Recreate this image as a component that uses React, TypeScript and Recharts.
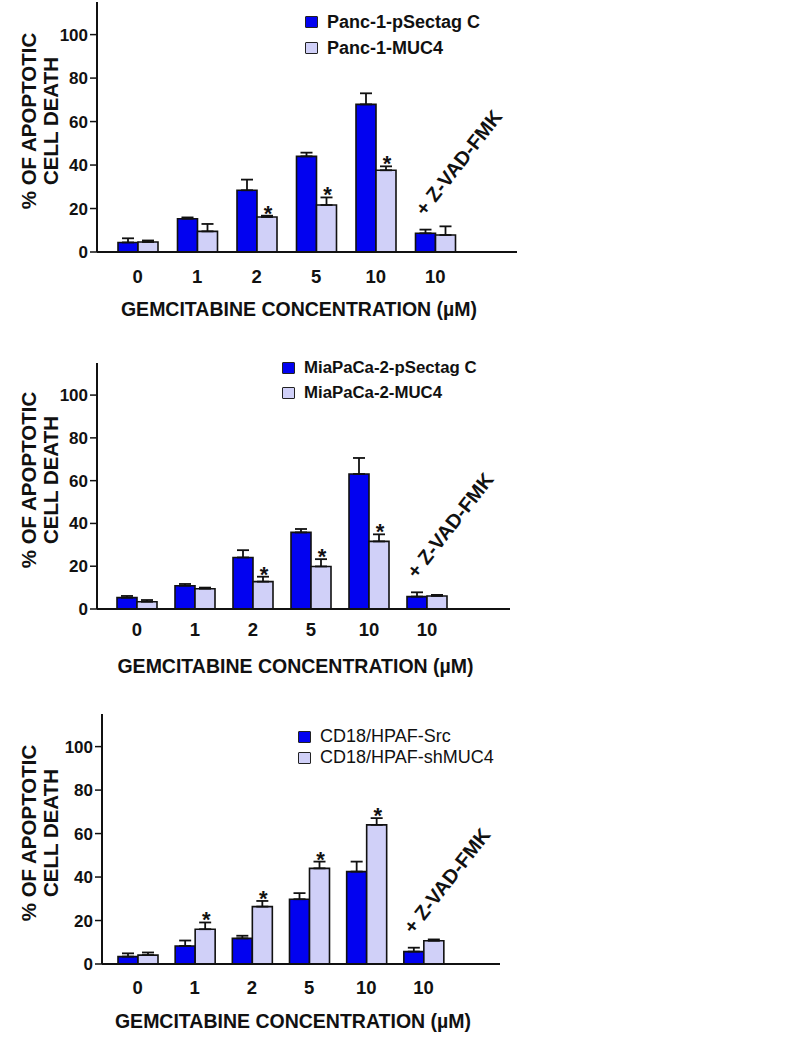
import React from 'react';
import { BarChart, Bar, XAxis, YAxis, ErrorBar, LabelList, Label } from 'recharts';

const FONT = '"Liberation Sans", Arial, sans-serif';
const BLUE = '#0202f0';
const LAVENDER = '#d0d0f8';

const doses = ['0', '1', '2', '5', '10', '10'];
const yTicks = [0, 20, 40, 60, 80, 100];
const xTitle = 'GEMCITABINE CONCENTRATION (µM)';
const yTitle = ['% OF APOPTOTIC', 'CELL DEATH'];
const inhibitor = '+ Z-VAD-FMK';

// Panc-1
const pancNames = ['Panc-1-pSectag C', 'Panc-1-MUC4'];
const pancCtrl = [4.4, 15.3, 28.4, 44.0, 67.9, 8.6];
const pancCtrlErr = [1.9, 0.6, 4.9, 1.7, 5.1, 1.7];
const pancMuc = [4.6, 9.5, 16.1, 21.6, 37.6, 7.8];
const pancMucErr = [0.7, 3.4, 0.6, 3.5, 1.8, 4.0];
const pancSig = [false, false, true, true, true, false];

// MiaPaCa-2
const miaNames = ['MiaPaCa-2-pSectag C', 'MiaPaCa-2-MUC4'];
const miaCtrl = [5.3, 10.9, 24.1, 35.8, 63.1, 5.8];
const miaCtrlErr = [0.8, 0.8, 3.4, 1.6, 7.5, 2.0];
const miaMuc = [3.4, 9.5, 12.8, 19.9, 31.6, 6.1];
const miaMucErr = [0.8, 0.5, 2.3, 3.4, 3.3, 0.5];
const miaSig = [false, false, true, true, true, false];

// CD18/HPAF
const hpafNames = ['CD18/HPAF-Src', 'CD18/HPAF-shMUC4'];
const hpafCtrl = [3.4, 8.3, 11.8, 29.8, 42.5, 5.7];
const hpafCtrlErr = [1.5, 2.5, 1.2, 2.8, 4.6, 1.8];
const hpafMuc = [4.1, 16.0, 26.4, 44.0, 64.0, 10.7];
const hpafMucErr = [1.2, 3.1, 2.6, 3.1, 3.1, 0.6];
const hpafSig = [false, true, true, true, true, false];

const buildRows = (ctrl: number[], ctrlErr: number[], muc: number[], mucErr: number[], sig: boolean[]) =>
  doses.map((dose, i) => ({
    dose,
    ctrl: ctrl[i],
    ctrlErr: [0, ctrlErr[i]],
    muc: muc[i],
    mucErr: [0, mucErr[i]],
    sig: sig[i],
    mucErrVal: mucErr[i],
    ctrlErrVal: ctrlErr[i],
  }));

type PanelCfg = {
  top: number;
  height: number;
  marginTop: number;
  marginBottom: number;
  marginRight: number;
  yWidth: number;
  padLeft: number;
  padRight: number;
  tickMargin: number;
  legendLeft: number;
  legendTop: number;
  legendLine: number;
  legendBold: boolean;
  legendSize: number;
  names: string[];
  rows: ReturnType<typeof buildRows>;
};

const panels: PanelCfg[] = [
  {
    top: 0, height: 330, marginTop: 2, marginBottom: 8, marginRight: 43, yWidth: 97,
    padLeft: 11, padRight: 52, tickMargin: 18,
    legendLeft: 305, legendTop: 9, legendLine: 26, legendBold: true, legendSize: 18,
    names: pancNames,
    rows: buildRows(pancCtrl, pancCtrlErr, pancMuc, pancMucErr, pancSig),
  },
  {
    top: 340, height: 345, marginTop: 23, marginBottom: 6, marginRight: 50, yWidth: 97,
    padLeft: 11, padRight: 54, tickMargin: 14,
    legendLeft: 282, legendTop: 15, legendLine: 25, legendBold: true, legendSize: 16.8,
    names: miaNames,
    rows: buildRows(miaCtrl, miaCtrlErr, miaMuc, miaMucErr, miaSig),
  },
  {
    top: 690, height: 360, marginTop: 24, marginBottom: 16, marginRight: 60, yWidth: 102,
    padLeft: 7, padRight: 48, tickMargin: 17,
    legendLeft: 298, legendTop: 36, legendLine: 21, legendBold: false, legendSize: 18,
    names: hpafNames,
    rows: buildRows(hpafCtrl, hpafCtrlErr, hpafMuc, hpafMucErr, hpafSig),
  },
];

const rectOf = (p: any) => {
  const vb = p.viewBox && p.viewBox.height !== undefined ? p.viewBox : p;
  return { x: Number(vb.x), y: Number(vb.y), width: Number(vb.width), height: Number(vb.height) };
};

const Panel = ({ cfg }: { cfg: PanelCfg }) => {
  const { rows } = cfg;

  // asterisk above the MUC4 error bar
  const star = (p: any) => {
    const row = rows[p.index];
    if (!row || !row.sig) return null;
    const r = rectOf(p);
    const perUnit = r.height / row.muc;
    const capY = r.y - row.mucErrVal * perUnit;
    return (
      <text x={r.x + r.width / 2 + 1} y={capY + 5} textAnchor="middle" fontFamily={FONT}
        fontWeight={700} fontSize={22} fill="#111">*</text>
    );
  };

  const zvad = (p: any) => {
    if (p.index !== rows.length - 1) return null;
    const row = rows[p.index];
    const r = rectOf(p);
    const perUnit = r.height / row.ctrl;
    const capY = r.y - row.ctrlErrVal * perUnit;
    const x0 = r.x + r.width / 2 - 6;
    const y0 = capY - 17;
    return (
      <text x={x0} y={y0} transform={`rotate(-52 ${x0} ${y0})`} textAnchor="start"
        dominantBaseline="central" fontFamily={FONT} fontWeight={700} fontSize={20} fill="#111">
        {inhibitor}
      </text>
    );
  };

  const yLabel = (p: any) => {
    const vb = p.viewBox;
    const cy = vb.y + vb.height / 2 - 6;
    return (
      <g fontFamily={FONT} fontWeight={700} fontSize={20.5} fill="#111">
        <text x={28} y={cy} transform={`rotate(-90 28 ${cy})`} textAnchor="middle" dominantBaseline="central">{yTitle[0]}</text>
        <text x={50} y={cy} transform={`rotate(-90 50 ${cy})`} textAnchor="middle" dominantBaseline="central">{yTitle[1]}</text>
      </g>
    );
  };

  const xLabel = (p: any) => {
    const vb = p.viewBox;
    const cx = vb.x + vb.width / 2 - 8;
    return (
      <text x={cx} y={vb.y + 57} textAnchor="middle" dominantBaseline="central" fontFamily={FONT}
        fontWeight={700} fontSize={19.5} fill="#111">{xTitle}</text>
    );
  };

  return (
    <div style={{ position: 'absolute', left: 0, top: cfg.top, width: 560, height: cfg.height }}>
      <BarChart
        width={560}
        height={cfg.height}
        data={rows}
        margin={{ top: cfg.marginTop, right: cfg.marginRight, bottom: cfg.marginBottom, left: 0 }}
        barGap={0}
      >
        <XAxis
          dataKey="dose"
          height={70}
          tickLine={false}
          tickSize={0}
          tickMargin={cfg.tickMargin}
          padding={{ left: cfg.padLeft, right: cfg.padRight }}
          axisLine={{ stroke: '#111', strokeWidth: 2 }}
          tick={{ fill: '#111', fontFamily: FONT, fontWeight: 700, fontSize: 18.5 }}
        >
          <Label content={xLabel} />
        </XAxis>
        <YAxis
          width={cfg.yWidth}
          domain={[0, 115]}
          ticks={yTicks}
          interval={0}
          tickSize={7}
          tickMargin={2}
          axisLine={{ stroke: '#111', strokeWidth: 2 }}
          tickLine={{ stroke: '#111', strokeWidth: 1.5 }}
          tick={{ fill: '#111', fontFamily: FONT, fontWeight: 700, fontSize: 17 }}
        >
          <Label content={yLabel} />
        </YAxis>
        <Bar dataKey="ctrl" barSize={20} fill={BLUE} stroke="#111" strokeWidth={1.6} isAnimationActive={false}>
          <ErrorBar dataKey="ctrlErr" direction="y" width={6} stroke="#111" strokeWidth={1.8} />
          <LabelList dataKey="ctrl" content={zvad} />
        </Bar>
        <Bar dataKey="muc" barSize={20} fill={LAVENDER} stroke="#111" strokeWidth={1.6} isAnimationActive={false}>
          <ErrorBar dataKey="mucErr" direction="y" width={6} stroke="#111" strokeWidth={1.8} />
          <LabelList dataKey="muc" content={star} />
        </Bar>
      </BarChart>
      <div
        style={{
          position: 'absolute',
          left: cfg.legendLeft,
          top: cfg.legendTop,
          fontFamily: FONT,
          fontWeight: cfg.legendBold ? 700 : 400,
          fontSize: cfg.legendSize,
          color: '#111',
          whiteSpace: 'nowrap',
        }}
      >
        {cfg.names.map((n, i) => (
          <div key={n} style={{ display: 'flex', alignItems: 'center', height: cfg.legendLine }}>
            <span
              style={{
                display: 'inline-block',
                width: 11,
                height: 10,
                background: i === 0 ? BLUE : LAVENDER,
                border: '1.5px solid #222',
                borderRadius: 1,
                marginRight: 9,
              }}
            />
            {n}
          </div>
        ))}
      </div>
    </div>
  );
};

export default function App() {
  return (
    <div style={{ position: 'absolute', left: 0, top: 0, width: 805, height: 1050, background: '#fff' }}>
      {panels.map((p, i) => (
        <Panel key={i} cfg={p} />
      ))}
    </div>
  );
}
